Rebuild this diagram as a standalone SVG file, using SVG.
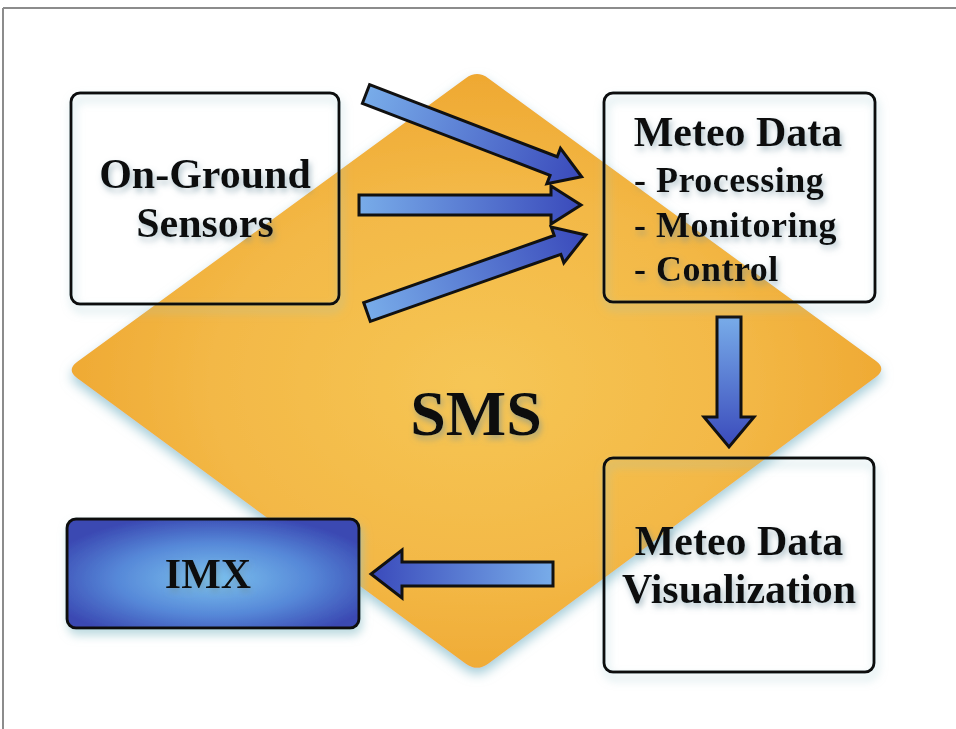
<svg xmlns="http://www.w3.org/2000/svg" width="956" height="729" viewBox="0 0 956 729">
  <defs>
    <radialGradient id="diamondFill" cx="0.5" cy="0.52" r="0.55">
      <stop offset="0" stop-color="#f6c655"/>
      <stop offset="0.6" stop-color="#f3b846"/>
      <stop offset="1" stop-color="#eea62f"/>
    </radialGradient>
    <linearGradient id="arrowFill" x1="0" y1="0" x2="1" y2="0">
      <stop offset="0" stop-color="#78ace9"/>
      <stop offset="1" stop-color="#3a4abb"/>
    </linearGradient>
    <radialGradient id="imxFill" cx="0.5" cy="0.55" r="0.6">
      <stop offset="0" stop-color="#7cc2ee"/>
      <stop offset="0.55" stop-color="#5688d8"/>
      <stop offset="1" stop-color="#3a48b2"/>
    </radialGradient>
    <filter id="softShadow" x="-10%" y="-10%" width="120%" height="125%">
      <feDropShadow dx="0" dy="6" stdDeviation="6" flood-color="#86bccb" flood-opacity="0.75"/>
    </filter>
    <filter id="boxShadow" x="-10%" y="-10%" width="125%" height="130%">
      <feDropShadow dx="2" dy="6" stdDeviation="5" flood-color="#93c3cc" flood-opacity="0.6"/>
    </filter>
    <filter id="textShadow" x="-10%" y="-30%" width="120%" height="170%">
      <feDropShadow dx="2" dy="4" stdDeviation="3" flood-color="#6d8e9c" flood-opacity="0.55"/>
    </filter>
    <style>
      .frame { stroke: #8c8c8c; stroke-width: 2; fill: none; }
      .box { fill: none; stroke: #111; stroke-width: 3; }
      .label { font-family: "Liberation Serif", "Times New Roman", serif; font-weight: bold; fill: #111; filter: url(#textShadow); }
      .title { font-size: 42px; text-anchor: middle; }
      .item { font-size: 36px; letter-spacing: 0.5px; }
      .arrow { fill: url(#arrowFill); stroke: #111; stroke-width: 3; stroke-linejoin: miter; }
    </style>
  </defs>

  <rect x="0" y="0" width="956" height="729" fill="#ffffff"/>

  <!-- page frame -->
  <path class="frame" d="M3,8 H956 M3,8 V729"/>

  <!-- SMS diamond -->
  <g id="sms">
    <path d="M465.7,78.3 Q477,70 488.3,78.2 L875.7,360.8 Q887,369 875.7,377.3 L488.3,663.7 Q477,672 465.7,663.7 L77.3,378.3 Q66,370 77.3,361.7 Z" fill="url(#diamondFill)" filter="url(#softShadow)"/>
    <text class="label" x="476" y="435" font-size="64" text-anchor="middle">SMS</text>
  </g>

  <!-- connectors -->
  <g id="connectors">
    <path class="arrow" transform="translate(366,94) rotate(21)" d="M0,-10 L201,-10 L201,-19 L231,0 L201,19 L201,10 L0,10 Z"/>
    <path class="arrow" transform="translate(359,205)" d="M0,-10 L192,-10 L192,-19 L222,0 L192,19 L192,10 L0,10 Z"/>
    <path class="arrow" transform="translate(367,312) rotate(-19.4)" d="M0,-10 L202,-10 L202,-19 L232,0 L202,19 L202,10 L0,10 Z"/>
    <path class="arrow" transform="translate(729,317) rotate(90)" d="M0,-12 L100,-12 L100,-25 L130,0 L100,25 L100,12 L0,12 Z"/>
    <path class="arrow" transform="translate(553,574) rotate(180)" d="M0,-12 L151,-12 L151,-24 L182,0 L151,24 L151,12 L0,12 Z"/>
  </g>

  <!-- On-Ground Sensors -->
  <g id="sensors">
    <rect class="box" x="71" y="93" width="268" height="211" rx="9" filter="url(#boxShadow)"/>
    <text class="label title" x="205" y="188">On-Ground</text>
    <text class="label title" x="205" y="237">Sensors</text>
  </g>

  <!-- Meteo Data processing -->
  <g id="meteo-data">
    <rect class="box" x="604" y="93" width="271" height="209" rx="9" filter="url(#boxShadow)"/>
    <text class="label title" x="738" y="146">Meteo Data</text>
    <text class="label item" x="634" y="192">- Processing</text>
    <text class="label item" x="634" y="237">- Monitoring</text>
    <text class="label item" x="634" y="281">- Control</text>
  </g>

  <!-- Meteo Data Visualization -->
  <g id="visualization">
    <rect class="box" x="604" y="458" width="270" height="214" rx="9" filter="url(#boxShadow)"/>
    <text class="label title" x="739" y="555">Meteo Data</text>
    <text class="label title" x="739" y="603">Visualization</text>
  </g>

  <!-- IMX -->
  <g id="imx">
    <rect x="67" y="519" width="292" height="109" rx="9" fill="url(#imxFill)" stroke="#111" stroke-width="3" filter="url(#boxShadow)"/>
    <text class="label" x="208" y="588" font-size="42" text-anchor="middle">IMX</text>
  </g>
</svg>
